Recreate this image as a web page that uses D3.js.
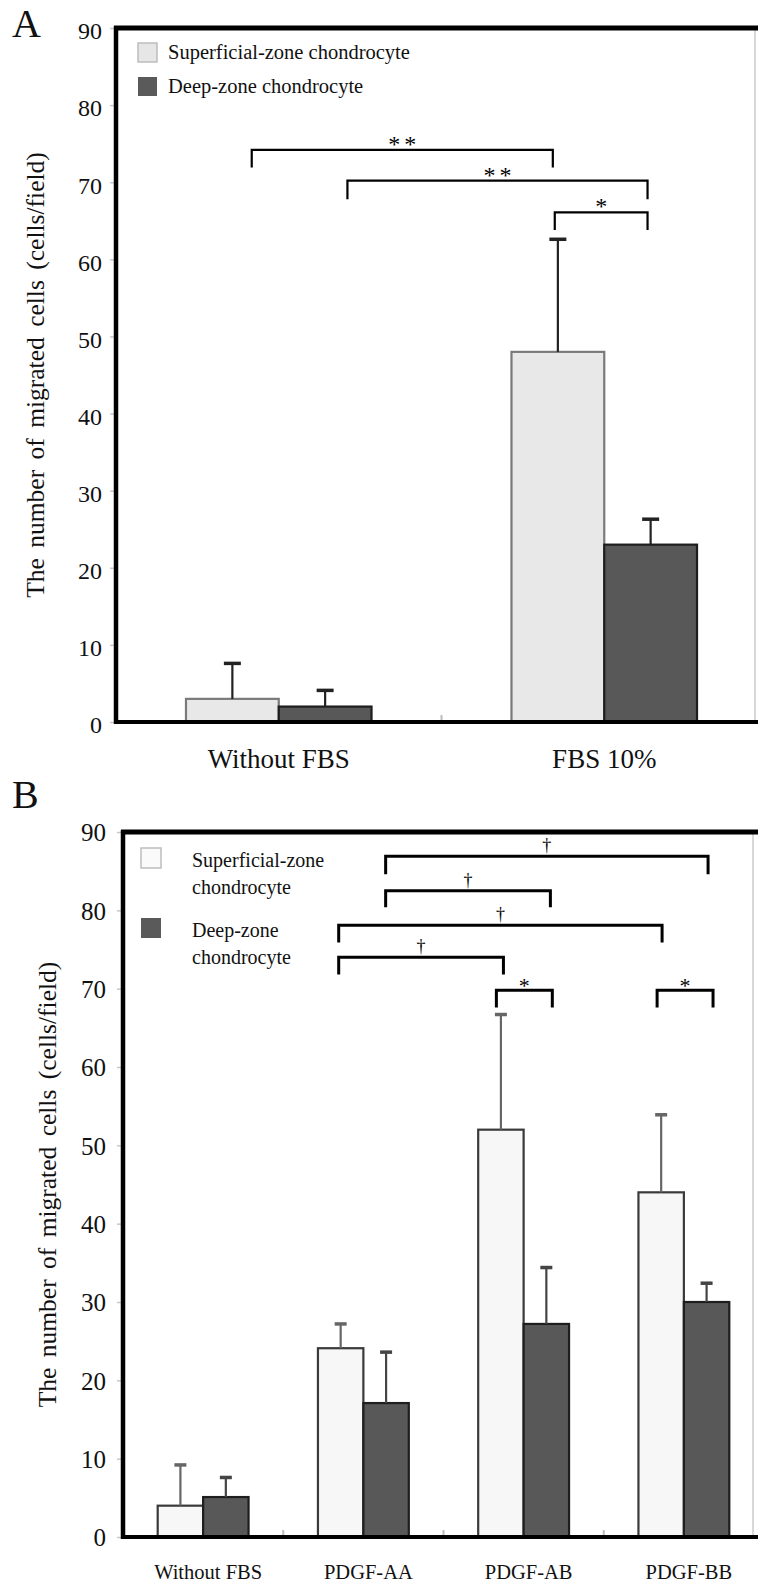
<!DOCTYPE html>
<html>
<head>
<meta charset="utf-8">
<script src="https://cdn.jsdelivr.net/npm/d3@7"></script>
<style>
  body { margin: 0; background: #fff; }
  svg { display: block; font-family: "Liberation Serif", "Times New Roman", serif; }
</style>
</head>
<body>
<script>
// series shared by both panels
const seriesKeys = ["superficial", "deep"];

// panel A
const aCategories = ["Without FBS", "FBS 10%"];
const aSuperficial = [3, 48];
const aSuperficialSD = [4.6, 14.6];
const aDeep = [2, 23];
const aDeepSD = [2.1, 3.3];
const aLegend = [["Superficial-zone chondrocyte"], ["Deep-zone chondrocyte"]];
// x in category units (0 = left edge of first group), y in cells/field
const aBrackets = [
    { x1: 0.417, x2: 1.342, y: 74.2, yLow: 71.9, label: "**" },
    { x1: 0.711, x2: 1.633, y: 70.2, yLow: 67.8, label: "**" },
    { x1: 1.348, x2: 1.633, y: 66.1, yLow: 63.8, label: "*" }
];

// panel B
const bCategories = ["Without FBS", "PDGF-AA", "PDGF-AB", "PDGF-BB"];
const bSuperficial = [4, 24.1, 52, 44];
const bSuperficialSD = [5.2, 3.1, 14.7, 9.9];
const bDeep = [5.1, 17.1, 27.2, 30];
const bDeepSD = [2.5, 6.5, 7.2, 2.4];
const bLegend = [["Superficial-zone", "chondrocyte"], ["Deep-zone", "chondrocyte"]];
const bBrackets = [
    { x1: 1.639, x2: 3.651, y: 86.9, yLow: 84.6, label: "†" },
    { x1: 1.639, x2: 2.667, y: 82.5, yLow: 80.4, label: "†" },
    { x1: 1.346, x2: 3.364, y: 78.1, yLow: 75.9, label: "†" },
    { x1: 1.346, x2: 2.374, y: 74.0, yLow: 71.8, label: "†" },
    { x1: 2.330, x2: 2.679, y: 69.8, yLow: 67.6, label: "*" },
    { x1: 3.333, x2: 3.682, y: 69.8, yLow: 67.6, label: "*" }
];

const yTicks = [0, 10, 20, 30, 40, 50, 60, 70, 80, 90];
const yTitle = "The number of migrated cells (cells/field)";

const W = 758, H = 1584;
const svg = d3.select("body").append("svg").attr("width", W).attr("height", H);

const drawPanel = (p) => {
    const g = svg.append("g");

    const x0 = d3.scaleBand().domain(p.categories).range([p.left, p.bandEnd]);
    const xPos = d3.scaleLinear().domain([0, p.categories.length]).range([p.left, p.bandEnd]);
    const y = d3.scaleLinear().domain([0, 90]).range([p.bottom, p.top]);
    const bw = x0.bandwidth();
    const gw = bw * p.groupFrac;
    const x1 = d3.scaleBand().domain(seriesKeys).range([(bw - gw) / 2, (bw + gw) / 2]);

    const rows = [];
    p.categories.forEach((c, i) => {
        rows.push({ cat: c, key: "superficial", v: p.superficial[i], sd: p.superficialSD[i] });
        rows.push({ cat: c, key: "deep", v: p.deep[i], sd: p.deepSD[i] });
    });
    const cx = d => x0(d.cat) + x1(d.key) + x1.bandwidth() / 2;

    // y axis ticks + labels
    const yAxis = g.append("g")
        .attr("transform", `translate(${p.left},0)`)
        .call(d3.axisLeft(y).tickValues(yTicks).tickSize(6).tickPadding(p.tickPad));
    yAxis.select(".domain").remove();
    yAxis.selectAll("line").attr("stroke", "#c8c8c8").attr("stroke-width", 1.5);
    yAxis.selectAll("text")
        .attr("font-family", "Liberation Serif, serif")
        .attr("font-size", p.tickFont)
        .attr("fill", "#111")
        .attr("dy", p.tickDy);

    // x axis labels
    const xAxis = g.append("g")
        .attr("transform", `translate(0,${p.bottom})`)
        .call(d3.axisBottom(x0).tickSize(0).tickPadding(27));
    xAxis.select(".domain").remove();
    xAxis.selectAll("text")
        .attr("font-family", "Liberation Serif, serif")
        .attr("font-size", p.xFont)
        .attr("fill", "#111")
        .attr("dx", p.xLabelDx);

    // small boundary ticks on the x axis
    g.selectAll(".xtick")
        .data(d3.range(1, p.categories.length))
        .join("line")
        .attr("x1", d => xPos(d)).attr("x2", d => xPos(d))
        .attr("y1", p.bottom).attr("y2", p.bottom - 7)
        .attr("stroke", "#bbb").attr("stroke-width", 2);

    // bars
    g.selectAll(".bar")
        .data(rows)
        .join("rect")
        .attr("x", d => x0(d.cat) + x1(d.key))
        .attr("width", x1.bandwidth())
        .attr("y", d => y(d.v))
        .attr("height", d => y(0) - y(d.v))
        .attr("fill", d => d.key === "superficial" ? p.lightFill : "#585858")
        .attr("stroke", d => d.key === "superficial" ? p.lightStroke : "#1e1e1e")
        .attr("stroke-width", 2.2);

    // error bars
    g.selectAll(".err")
        .data(rows)
        .join("line")
        .attr("x1", cx).attr("x2", cx)
        .attr("y1", d => y(d.v)).attr("y2", d => y(d.v + d.sd))
        .attr("stroke", d => d.key === "superficial" ? p.errLight : p.errDark)
        .attr("stroke-width", 2.2);
    g.selectAll(".cap")
        .data(rows)
        .join("line")
        .attr("x1", d => cx(d) - p.capW / 2).attr("x2", d => cx(d) + p.capW / 2)
        .attr("y1", d => y(d.v + d.sd)).attr("y2", d => y(d.v + d.sd))
        .attr("stroke", d => d.key === "superficial" ? p.errLight : p.errDark)
        .attr("stroke-width", 3.5);

    // frame
    g.append("line").attr("x1", p.right).attr("x2", p.right).attr("y1", p.top).attr("y2", p.bottom)
        .attr("stroke", "#d8d8d8").attr("stroke-width", 2);
    g.append("line").attr("x1", p.left - 2).attr("x2", W).attr("y1", p.top).attr("y2", p.top)
        .attr("stroke", "#000").attr("stroke-width", 5);
    g.append("line").attr("x1", p.left - 2).attr("x2", W).attr("y1", p.bottom).attr("y2", p.bottom)
        .attr("stroke", "#000").attr("stroke-width", 4);
    g.append("line").attr("x1", p.left).attr("x2", p.left).attr("y1", p.top - 2).attr("y2", p.bottom + 2)
        .attr("stroke", "#000").attr("stroke-width", 4.5);

    // significance brackets
    const br = g.selectAll(".bracket")
        .data(p.brackets)
        .join("g");
    br.append("path")
        .attr("fill", "none")
        .attr("stroke", "#000")
        .attr("stroke-width", p.bracketW)
        .attr("d", d => `M${xPos(d.x1)},${y(d.yLow)}V${y(d.y)}H${xPos(d.x2)}V${y(d.yLow)}`);
    br.append("text")
        .attr("x", d => (xPos(d.x1) + xPos(d.x2)) / 2)
        .attr("y", d => y(d.y) + (d.label === "†" ? p.daggerDy : p.starDy))
        .attr("text-anchor", "middle")
        .attr("fill", "#000")
        .attr("opacity", 0.99)
        .attr("font-size", d => d.label === "†" ? p.daggerFont : p.starFont)
        .attr("letter-spacing", d => d.label === "**" ? 4 : 0)
        .attr("dx", d => d.label === "**" ? 2 : 0)
        .text(d => d.label);

    // legend
    const lg = g.selectAll(".legend")
        .data(seriesKeys)
        .join("g")
        .attr("transform", (d, i) => `translate(${p.legendX},${p.legendY[i]})`);
    lg.append("rect")
        .attr("width", p.legendBox).attr("height", p.legendBox)
        .attr("fill", d => d === "superficial" ? p.legendLight : "#5a5a5a")
        .attr("stroke", d => d === "superficial" ? "#bdbdbd" : "none")
        .attr("stroke-width", 1.5);
    lg.append("text")
        .attr("x", p.legendTextDx)
        .attr("font-size", p.legendFont)
        .attr("fill", "#111")
        .selectAll("tspan")
        .data((d, i) => p.legend[i])
        .join("tspan")
        .attr("x", p.legendTextDx)
        .attr("y", (d, j) => p.legendBaseline + j * p.legendLine)
        .text(d => d);

    // y title, centred on the plot
    g.append("text")
        .attr("transform", `translate(${p.titleX},${(p.top + p.bottom) / 2}) rotate(-90)`)
        .attr("text-anchor", "middle")
        .attr("font-size", 25.5)
        .attr("fill", "#111")
        .attr("word-spacing", 4)
        .text(yTitle);

    // panel letter
    g.append("text")
        .attr("x", p.letterX).attr("y", p.letterY)
        .attr("font-size", 40)
        .attr("fill", "#111")
        .text(p.letter);
};

drawPanel({
    letter: "A", letterX: 12, letterY: 37,
    categories: aCategories,
    superficial: aSuperficial, superficialSD: aSuperficialSD,
    deep: aDeep, deepSD: aDeepSD,
    brackets: aBrackets, legend: aLegend,
    left: 116, bandEnd: 767, right: 755, top: 28, bottom: 722,
    groupFrac: 0.57,
    tickPad: 8, tickFont: 24, tickDy: "0.45em",
    xFont: 27, xLabelDx: 0,
    lightFill: "#e8e8e8", lightStroke: "#7a7a7a",
    errLight: "#222", errDark: "#222", capW: 17,
    bracketW: 2.2, starFont: 24, starDy: 2, daggerFont: 18, daggerDy: -5,
    legendX: 138, legendY: [43, 77], legendBox: 19,
    legendLight: "#e6e6e6", legendTextDx: 30, legendFont: 20.5,
    legendBaseline: 16, legendLine: 27,
    titleX: 44
});

drawPanel({
    letter: "B", letterX: 12, letterY: 808,
    categories: bCategories,
    superficial: bSuperficial, superficialSD: bSuperficialSD,
    deep: bDeep, deepSD: bDeepSD,
    brackets: bBrackets, legend: bLegend,
    left: 123, bandEnd: 764, right: 753, top: 832, bottom: 1537,
    groupFrac: 0.567,
    tickPad: 11, tickFont: 25, tickDy: "0.35em",
    xFont: 20.5, xLabelDx: 5,
    lightFill: "#f7f7f7", lightStroke: "#3a3a3a",
    errLight: "#666", errDark: "#444", capW: 12,
    bracketW: 3, starFont: 22, starDy: 3, daggerFont: 18, daggerDy: -5,
    legendX: 141, legendY: [848, 918], legendBox: 20,
    legendLight: "#fafafa", legendTextDx: 51, legendFont: 20,
    legendBaseline: 19, legendLine: 27,
    titleX: 56
});
</script>
</body>
</html>
